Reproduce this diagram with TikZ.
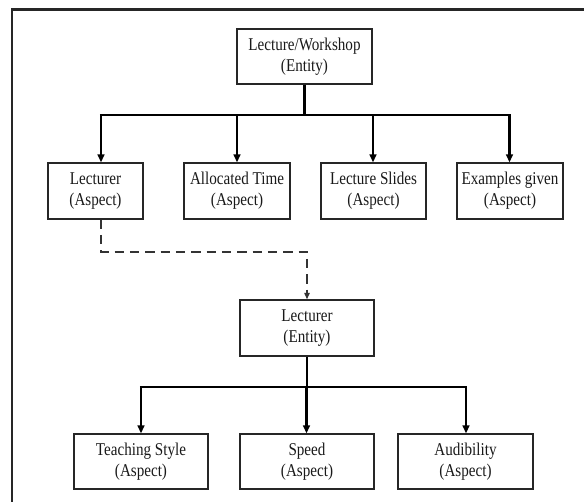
\documentclass[tikz,border=0pt]{standalone}
\usepackage{fontspec}
\setmainfont{Liberation Serif}[FakeStretch=0.84]
\usetikzlibrary{arrows.meta}
\begin{document}
\begin{tikzpicture}[x=0.75pt,y=-0.75pt,
  box/.style={draw=black!85,line width=0.85pt,align=center,inner sep=0pt,
    font=\fontsize{13.5}{15.75}\selectfont,text=black!90},
  link/.style={line width=1.8pt,black,-{Triangle[length=6pt,width=5pt]}},
  bar/.style={line width=1.8pt,black},
  dlink/.style={line width=1.4pt,black!80,dash pattern=on 7pt off 4.5pt,
    -{Triangle[length=5pt,width=4pt]}}]
\useasboundingbox (0,0) rectangle (584,502);
\draw[line width=1.6pt,black!85] (12,509) -- (12,9.5) -- (590,9.5);
% top entity
\node[box,minimum width=101.25pt,minimum height=41.25pt] (top) at (304.5,56.5)
  {Lecture/Workshop\\(Entity)};
% aspects level 2
\node[box,minimum width=71.25pt,minimum height=42pt] (lec) at (95.5,191) {Lecturer\\(Aspect)};
\node[box,minimum width=79.5pt,minimum height=42pt] (alloc) at (237,191) {Allocated Time\\(Aspect)};
\node[box,minimum width=78.75pt,minimum height=42pt] (slides) at (373.5,191) {Lecture Slides\\(Aspect)};
\node[box,minimum width=79.5pt,minimum height=42pt] (ex) at (510,191) {Examples given\\(Aspect)};
% lecturer entity
\node[box,minimum width=100.5pt,minimum height=42pt] (ent) at (307,328) {Lecturer\\(Entity)};
% bottom aspects
\node[box,minimum width=100.5pt,minimum height=41.25pt] (teach) at (141,461.5) {Teaching Style\\(Aspect)};
\node[box,minimum width=100.5pt,minimum height=41.25pt] (speed) at (307,461.5) {Speed\\(Aspect)};
\node[box,minimum width=101.25pt,minimum height=41.25pt] (aud) at (465.5,461.5) {Audibility\\(Aspect)};
% top tree
\coordinate (t0) at (304.5,115);
\coordinate (t1) at (101,115);
\coordinate (t2) at (237,115);
\coordinate (t3) at (373,115);
\coordinate (t4) at (509.5,115);
\draw[bar] (top.south -| t0) -- (t0);
\draw[bar] ([xshift=-0.9pt]t1) -- ([xshift=0.9pt]t4);
\draw[link] ([yshift=-0.9pt]t1) -- (t1 |- lec.north);
\draw[link] (t2) -- (t2 |- alloc.north);
\draw[link] (t3) -- (t3 |- slides.north);
\draw[link] ([yshift=-0.9pt]t4) -- (t4 |- ex.north);
% dashed link
\coordinate (d0) at (101,219);
\coordinate (d1) at (101,252);
\coordinate (d2) at (307,252);
\draw[dlink] (d0 |- lec.south) -- (d1) -- (d2) -- (d2 |- ent.north);
% bottom tree
\coordinate (b0) at (307,387);
\coordinate (b1) at (141,387);
\coordinate (b2) at (306.5,387);
\coordinate (b3) at (466,387);
\draw[bar] (ent.south) -- (b0);
\draw[bar] ([xshift=-0.9pt]b1) -- ([xshift=0.9pt]b3);
\draw[link] ([yshift=-0.9pt]b1) -- (b1 |- teach.north);
\draw[link] (b2) -- (b2 |- speed.north);
\draw[link] ([yshift=-0.9pt]b3) -- (b3 |- aud.north);
\end{tikzpicture}
\end{document}
